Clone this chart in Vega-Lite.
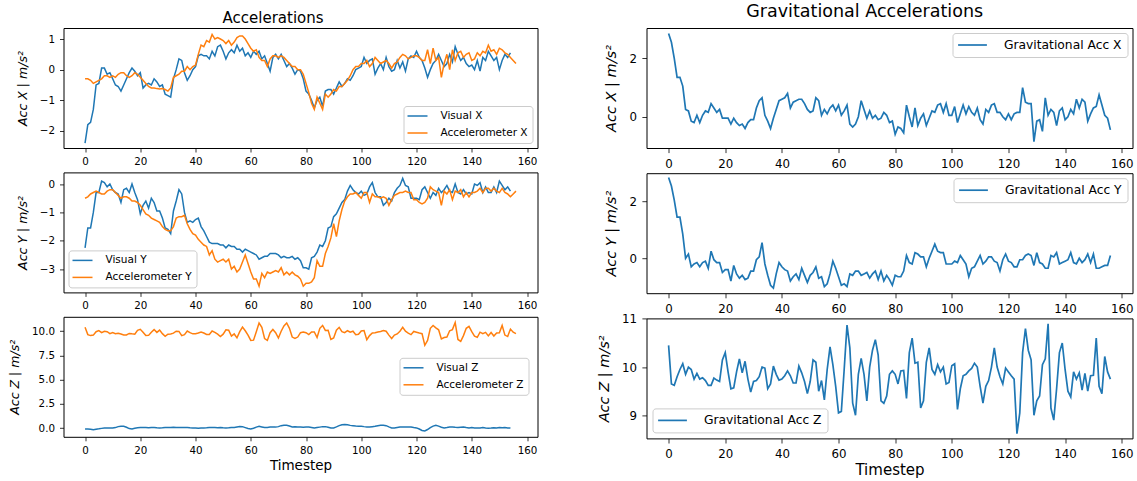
{
  "$schema": "https://vega.github.io/schema/vega-lite/v6.json",
  "background": "white",
  "padding": {"left": 7.5, "top": 3, "right": 5, "bottom": 0},
  "data": {"values": [
{"t":0,"vx":-2.4,"ax":-0.3,"vy":-2.25,"ay":-0.5,"vz":-0.1,"az":10.4,"gx":2.85,"gy":2.85,"gz":10.45},
{"t":1,"vx":-1.8,"ax":-0.3,"vy":-1.55,"ay":-0.45,"vz":-0.1,"az":9.65,"gx":2.55,"gy":2.55,"gz":9.65},
{"t":2,"vx":-1.72,"ax":-0.35,"vy":-1.55,"ay":-0.35,"vz":-0.12,"az":9.55,"gx":2.0,"gy":2.05,"gz":9.62},
{"t":3,"vx":-1.3,"ax":-0.45,"vy":-1.0,"ay":-0.3,"vz":-0.18,"az":9.6,"gx":1.35,"gy":1.45,"gz":9.8},
{"t":4,"vx":-0.5,"ax":-0.4,"vy":-0.3,"ay":-0.25,"vz":-0.12,"az":9.95,"gx":1.35,"gy":1.45,"gz":9.95},
{"t":5,"vx":-0.45,"ax":-0.35,"vy":-0.3,"ay":-0.3,"vz":-0.08,"az":10.07,"gx":1.05,"gy":0.85,"gz":10.07},
{"t":6,"vx":0.05,"ax":-0.3,"vy":0.1,"ay":-0.35,"vz":-0.03,"az":9.85,"gx":0.25,"gy":0.0,"gz":9.85},
{"t":7,"vx":0.05,"ax":-0.2,"vy":0.05,"ay":-0.35,"vz":0,"az":10.0,"gx":0.2,"gy":0.15,"gz":10.0},
{"t":8,"vx":-0.15,"ax":-0.2,"vy":-0.1,"ay":-0.25,"vz":0,"az":9.95,"gx":-0.15,"gy":-0.3,"gz":9.95},
{"t":9,"vx":-0.1,"ax":-0.25,"vy":0.0,"ay":-0.2,"vz":0,"az":9.75,"gx":-0.2,"gy":-0.2,"gz":9.75},
{"t":10,"vx":-0.3,"ax":-0.2,"vy":-0.2,"ay":-0.2,"vz":0,"az":9.87,"gx":0.05,"gy":-0.15,"gz":9.87},
{"t":11,"vx":-0.5,"ax":-0.25,"vy":-0.3,"ay":-0.3,"vz":0.05,"az":9.75,"gx":-0.2,"gy":-0.3,"gz":9.75},
{"t":12,"vx":-0.55,"ax":-0.15,"vy":-0.35,"ay":-0.4,"vz":0.15,"az":9.78,"gx":0.05,"gy":-0.15,"gz":9.78},
{"t":13,"vx":-0.7,"ax":-0.1,"vy":-0.65,"ay":-0.5,"vz":0.2,"az":9.72,"gx":0.2,"gy":-0.1,"gz":9.72},
{"t":14,"vx":-0.5,"ax":-0.1,"vy":-0.2,"ay":-0.45,"vz":0.18,"az":9.62,"gx":0.15,"gy":-0.35,"gz":9.62},
{"t":15,"vx":-0.3,"ax":-0.2,"vy":-0.15,"ay":-0.45,"vz":0.08,"az":9.62,"gx":0.45,"gy":0.25,"gz":9.62},
{"t":16,"vx":-0.1,"ax":-0.25,"vy":-0.3,"ay":-0.5,"vz":-0.05,"az":9.77,"gx":0.3,"gy":-0.05,"gz":9.77},
{"t":17,"vx":0.05,"ax":-0.2,"vy":0.0,"ay":-0.6,"vz":-0.1,"az":9.73,"gx":0.15,"gy":-0.15,"gz":9.73},
{"t":18,"vx":-0.05,"ax":-0.1,"vy":-0.3,"ay":-0.6,"vz":-0.02,"az":9.7,"gx":0.25,"gy":-0.15,"gz":9.7},
{"t":19,"vx":-0.2,"ax":-0.15,"vy":-0.55,"ay":-0.65,"vz":0.03,"az":10.1,"gx":-0.05,"gy":-0.5,"gz":10.15},
{"t":20,"vx":-0.1,"ax":-0.25,"vy":-1.05,"ay":-0.75,"vz":0.05,"az":10.2,"gx":-0.05,"gy":-0.4,"gz":10.3},
{"t":21,"vx":-0.6,"ax":-0.35,"vy":-0.75,"ay":-0.9,"vz":0.05,"az":9.9,"gx":-0.05,"gy":-0.4,"gz":9.9},
{"t":22,"vx":-0.5,"ax":-0.45,"vy":-0.6,"ay":-1.05,"vz":0.05,"az":9.55,"gx":-0.25,"gy":-0.8,"gz":9.55},
{"t":23,"vx":-0.45,"ax":-0.55,"vy":-0.85,"ay":-1.1,"vz":0.03,"az":9.57,"gx":-0.05,"gy":-0.25,"gz":9.57},
{"t":24,"vx":-0.5,"ax":-0.6,"vy":-0.5,"ay":-1.2,"vz":0.05,"az":9.9,"gx":-0.2,"gy":-0.55,"gz":9.9},
{"t":25,"vx":-0.3,"ax":-0.6,"vy":-0.65,"ay":-1.25,"vz":0.05,"az":10.17,"gx":-0.3,"gy":-0.7,"gz":10.17},
{"t":26,"vx":-0.4,"ax":-0.62,"vy":-0.95,"ay":-1.3,"vz":0.03,"az":9.88,"gx":-0.25,"gy":-0.6,"gz":9.88},
{"t":27,"vx":-0.55,"ax":-0.63,"vy":-0.95,"ay":-1.35,"vz":0.02,"az":10.12,"gx":-0.4,"gy":-0.75,"gz":10.12},
{"t":28,"vx":-0.5,"ax":-0.62,"vy":-1.2,"ay":-1.5,"vz":0.03,"az":9.75,"gx":-0.2,"gy":-0.7,"gz":9.75},
{"t":29,"vx":-0.8,"ax":-0.65,"vy":-1.55,"ay":-1.6,"vz":0.05,"az":9.48,"gx":-0.1,"gy":-0.45,"gz":9.48},
{"t":30,"vx":-0.85,"ax":-0.7,"vy":-1.6,"ay":-1.65,"vz":0.05,"az":9.7,"gx":-0.1,"gy":-0.45,"gz":9.7},
{"t":31,"vx":-0.9,"ax":-0.6,"vy":-1.75,"ay":-1.65,"vz":0.07,"az":9.72,"gx":0.3,"gy":-0.05,"gz":9.72},
{"t":32,"vx":-0.3,"ax":-0.25,"vy":-0.95,"ay":-1.5,"vz":0.08,"az":9.8,"gx":0.55,"gy":0.05,"gz":9.8},
{"t":33,"vx":0.0,"ax":-0.2,"vy":-0.6,"ay":-1.2,"vz":0.07,"az":10.0,"gx":0.65,"gy":0.55,"gz":10.0},
{"t":34,"vx":0.35,"ax":-0.15,"vy":-0.2,"ay":-1.15,"vz":0.06,"az":9.98,"gx":0.05,"gy":-0.2,"gz":9.98},
{"t":35,"vx":0.3,"ax":-0.05,"vy":-0.35,"ay":-1.15,"vz":0.05,"az":9.55,"gx":-0.15,"gy":-0.6,"gz":9.55},
{"t":36,"vx":-0.1,"ax":-0.05,"vy":-1.0,"ay":-1.1,"vz":0.07,"az":9.65,"gx":-0.4,"gy":-0.95,"gz":9.65},
{"t":37,"vx":-0.35,"ax":0.1,"vy":-1.35,"ay":-1.4,"vz":0.05,"az":10.02,"gx":-0.05,"gy":-1.05,"gz":10.02},
{"t":38,"vx":-0.2,"ax":0.0,"vy":-1.3,"ay":-1.6,"vz":0.03,"az":9.85,"gx":0.25,"gy":-0.55,"gz":9.85},
{"t":39,"vx":0.0,"ax":0.1,"vy":-1.35,"ay":-1.75,"vz":0.02,"az":9.73,"gx":0.55,"gy":-0.15,"gz":9.73},
{"t":40,"vx":0.1,"ax":0.15,"vy":-1.25,"ay":-1.8,"vz":0.0,"az":9.75,"gx":0.6,"gy":-0.3,"gz":9.75},
{"t":41,"vx":0.45,"ax":0.5,"vy":-1.2,"ay":-1.95,"vz":-0.02,"az":9.82,"gx":0.65,"gy":-0.4,"gz":9.82},
{"t":42,"vx":0.5,"ax":0.8,"vy":-1.5,"ay":-2.05,"vz":0.0,"az":9.92,"gx":0.8,"gy":-0.45,"gz":9.92},
{"t":43,"vx":0.45,"ax":0.75,"vy":-1.65,"ay":-2.15,"vz":0.02,"az":9.82,"gx":0.3,"gy":-0.8,"gz":9.82},
{"t":44,"vx":0.45,"ax":0.95,"vy":-1.85,"ay":-2.2,"vz":0.03,"az":9.67,"gx":0.5,"gy":-0.65,"gz":9.67},
{"t":45,"vx":0.35,"ax":0.9,"vy":-2.05,"ay":-2.5,"vz":0.05,"az":9.67,"gx":0.55,"gy":-0.55,"gz":9.67},
{"t":46,"vx":0.6,"ax":1.15,"vy":-2.1,"ay":-2.35,"vz":0.06,"az":10.02,"gx":0.6,"gy":-0.75,"gz":10.02},
{"t":47,"vx":0.45,"ax":1.0,"vy":-2.1,"ay":-2.65,"vz":0.05,"az":9.88,"gx":0.6,"gy":-0.35,"gz":9.88},
{"t":48,"vx":0.75,"ax":1.05,"vy":-2.1,"ay":-2.75,"vz":0.03,"az":9.7,"gx":0.45,"gy":-0.6,"gz":9.7},
{"t":49,"vx":0.8,"ax":1.0,"vy":-2.15,"ay":-2.7,"vz":0.05,"az":9.45,"gx":0.25,"gy":-0.85,"gz":9.45},
{"t":50,"vx":0.6,"ax":0.95,"vy":-2.15,"ay":-2.65,"vz":0.03,"az":9.7,"gx":0.15,"gy":-0.6,"gz":9.7},
{"t":51,"vx":0.35,"ax":0.85,"vy":-2.25,"ay":-2.75,"vz":0.02,"az":10.15,"gx":0.2,"gy":-0.5,"gz":10.15},
{"t":52,"vx":0.55,"ax":0.95,"vy":-2.15,"ay":-2.65,"vz":0.03,"az":10.1,"gx":0.65,"gy":-0.3,"gz":10.1},
{"t":53,"vx":0.65,"ax":0.8,"vy":-2.2,"ay":-3.0,"vz":0.05,"az":9.5,"gx":0.55,"gy":-0.7,"gz":9.5},
{"t":54,"vx":0.55,"ax":0.9,"vy":-2.2,"ay":-2.9,"vz":0.07,"az":9.72,"gx":0.05,"gy":-0.65,"gz":9.72},
{"t":55,"vx":0.8,"ax":1.05,"vy":-2.3,"ay":-3.1,"vz":0.12,"az":9.32,"gx":0.25,"gy":-1.0,"gz":9.32},
{"t":56,"vx":0.6,"ax":1.1,"vy":-2.3,"ay":-3.0,"vz":0.17,"az":9.95,"gx":0.1,"gy":-0.9,"gz":9.95},
{"t":57,"vx":0.7,"ax":1.1,"vy":-2.4,"ay":-2.75,"vz":0.15,"az":10.42,"gx":0.3,"gy":-0.55,"gz":10.42},
{"t":58,"vx":0.45,"ax":1.0,"vy":-2.3,"ay":-2.5,"vz":0.05,"az":10.05,"gx":0.4,"gy":-0.1,"gz":10.05},
{"t":59,"vx":0.55,"ax":0.85,"vy":-2.35,"ay":-2.8,"vz":-0.05,"az":9.6,"gx":0.2,"gy":-0.35,"gz":9.6},
{"t":60,"vx":0.4,"ax":0.7,"vy":-2.4,"ay":-3.1,"vz":-0.1,"az":9.05,"gx":0.4,"gy":-0.65,"gz":9.05},
{"t":61,"vx":0.6,"ax":0.6,"vy":-2.45,"ay":-3.35,"vz":-0.02,"az":9.08,"gx":0.05,"gy":-0.95,"gz":9.08},
{"t":62,"vx":0.5,"ax":0.65,"vy":-2.5,"ay":-3.35,"vz":0.1,"az":9.95,"gx":0.2,"gy":-0.9,"gz":9.95},
{"t":63,"vx":0.6,"ax":0.4,"vy":-2.65,"ay":-3.6,"vz":0.18,"az":10.85,"gx":0.4,"gy":-1.0,"gz":10.87},
{"t":64,"vx":0.35,"ax":0.3,"vy":-2.6,"ay":-3.15,"vz":0.12,"az":10.4,"gx":-0.25,"gy":-0.55,"gz":10.4},
{"t":65,"vx":0.45,"ax":0.3,"vy":-2.55,"ay":-3.3,"vz":0.05,"az":9.25,"gx":-0.35,"gy":-0.6,"gz":9.25},
{"t":66,"vx":0.2,"ax":0.1,"vy":-2.55,"ay":-3.1,"vz":0.05,"az":9.05,"gx":-0.25,"gy":-0.45,"gz":9.0},
{"t":67,"vx":-0.05,"ax":0.35,"vy":-2.45,"ay":-3.15,"vz":0.1,"az":9.85,"gx":0.0,"gy":-0.45,"gz":9.85},
{"t":68,"vx":0.4,"ax":0.45,"vy":-2.45,"ay":-3.1,"vz":0.12,"az":10.18,"gx":0.55,"gy":-0.6,"gz":10.18},
{"t":69,"vx":0.5,"ax":0.45,"vy":-2.45,"ay":-3.05,"vz":0.1,"az":9.85,"gx":0.25,"gy":-0.55,"gz":9.85},
{"t":70,"vx":0.35,"ax":0.4,"vy":-2.5,"ay":-3.1,"vz":0.15,"az":9.3,"gx":-0.05,"gy":-0.5,"gz":9.3},
{"t":71,"vx":0.5,"ax":0.45,"vy":-2.6,"ay":-2.95,"vz":0.25,"az":10.0,"gx":0.2,"gy":-0.7,"gz":10.0},
{"t":72,"vx":0.3,"ax":0.4,"vy":-2.55,"ay":-3.2,"vz":0.3,"az":10.55,"gx":-0.05,"gy":-0.55,"gz":10.35},
{"t":73,"vx":0.1,"ax":0.3,"vy":-2.6,"ay":-3.1,"vz":0.3,"az":10.85,"gx":0.05,"gy":-0.45,"gz":10.57},
{"t":74,"vx":0.2,"ax":0.2,"vy":-2.6,"ay":-3.2,"vz":0.22,"az":10.3,"gx":-0.1,"gy":-0.75,"gz":10.25},
{"t":75,"vx":0.05,"ax":0.1,"vy":-2.55,"ay":-3.1,"vz":0.12,"az":9.4,"gx":-0.05,"gy":-0.45,"gz":9.3},
{"t":76,"vx":-0.15,"ax":0.1,"vy":-2.65,"ay":-3.2,"vz":0.15,"az":9.25,"gx":0.15,"gy":-0.8,"gz":9.25},
{"t":77,"vx":0.0,"ax":0.0,"vy":-2.6,"ay":-3.25,"vz":0.12,"az":9.4,"gx":0.05,"gy":-0.6,"gz":9.4},
{"t":78,"vx":-0.05,"ax":0.0,"vy":-2.7,"ay":-3.35,"vz":0.1,"az":9.85,"gx":-0.2,"gy":-0.75,"gz":9.85},
{"t":79,"vx":-0.3,"ax":-0.15,"vy":-2.95,"ay":-3.6,"vz":0.08,"az":9.92,"gx":-0.15,"gy":-0.95,"gz":9.92},
{"t":80,"vx":-0.7,"ax":-0.45,"vy":-2.95,"ay":-3.5,"vz":0.1,"az":9.85,"gx":-0.6,"gy":-0.6,"gz":9.85},
{"t":81,"vx":-0.8,"ax":-0.75,"vy":-3.0,"ay":-3.5,"vz":0.1,"az":9.65,"gx":-0.35,"gy":-0.65,"gz":9.65},
{"t":82,"vx":-1.0,"ax":-1.1,"vy":-2.6,"ay":-3.45,"vz":0.05,"az":9.92,"gx":-0.4,"gy":-0.65,"gz":9.92},
{"t":83,"vx":-1.25,"ax":-1.3,"vy":-2.55,"ay":-3.3,"vz":0.0,"az":9.93,"gx":-0.55,"gy":-0.45,"gz":9.93},
{"t":84,"vx":-1.0,"ax":-0.9,"vy":-2.4,"ay":-2.7,"vz":0.05,"az":9.35,"gx":0.4,"gy":0.1,"gz":9.35},
{"t":85,"vx":-0.9,"ax":-1.1,"vy":-2.15,"ay":-2.9,"vz":0.1,"az":10.3,"gx":0.0,"gy":-0.15,"gz":10.3},
{"t":86,"vx":-1.2,"ax":-1.3,"vy":-2.2,"ay":-2.9,"vz":0.15,"az":10.6,"gx":-0.35,"gy":-0.2,"gz":10.6},
{"t":87,"vx":-0.7,"ax":-0.8,"vy":-2.0,"ay":-2.45,"vz":0.15,"az":10.08,"gx":0.3,"gy":0.2,"gz":10.08},
{"t":88,"vx":-0.65,"ax":-0.9,"vy":-1.55,"ay":-2.2,"vz":0.08,"az":10.1,"gx":-0.3,"gy":0.15,"gz":10.1},
{"t":89,"vx":-0.65,"ax":-0.8,"vy":-1.5,"ay":-1.9,"vz":0.0,"az":9.15,"gx":-0.05,"gy":0.05,"gz":9.15},
{"t":90,"vx":-0.8,"ax":-0.65,"vy":-1.15,"ay":-1.4,"vz":0.02,"az":9.3,"gx":0.1,"gy":0.05,"gz":9.3},
{"t":91,"vx":-0.6,"ax":-0.7,"vy":-1.05,"ay":-1.85,"vz":0.12,"az":10.1,"gx":-0.3,"gy":-0.3,"gz":10.1},
{"t":92,"vx":-0.4,"ax":-0.55,"vy":-0.85,"ay":-1.3,"vz":0.25,"az":10.4,"gx":-0.05,"gy":0.0,"gz":10.4},
{"t":93,"vx":-0.55,"ax":-0.55,"vy":-0.65,"ay":-0.9,"vz":0.35,"az":9.95,"gx":0.2,"gy":0.25,"gz":9.95},
{"t":94,"vx":-0.45,"ax":-0.45,"vy":-0.55,"ay":-0.6,"vz":0.38,"az":9.85,"gx":0.15,"gy":0.5,"gz":9.85},
{"t":95,"vx":-0.3,"ax":-0.35,"vy":-0.25,"ay":-0.45,"vz":0.35,"az":10.05,"gx":0.4,"gy":0.25,"gz":10.05},
{"t":96,"vx":-0.35,"ax":-0.2,"vy":-0.05,"ay":-0.35,"vz":0.28,"az":9.9,"gx":0.45,"gy":0.2,"gz":9.9},
{"t":97,"vx":-0.2,"ax":0.0,"vy":-0.2,"ay":-0.35,"vz":0.25,"az":10.0,"gx":0.15,"gy":0.2,"gz":10.0},
{"t":98,"vx":0.0,"ax":0.1,"vy":-0.3,"ay":-0.3,"vz":0.22,"az":9.65,"gx":0.45,"gy":-0.2,"gz":9.65},
{"t":99,"vx":0.05,"ax":0.1,"vy":-0.35,"ay":-0.4,"vz":0.2,"az":9.68,"gx":0.05,"gy":-0.2,"gz":9.68},
{"t":100,"vx":0.1,"ax":0.2,"vy":-0.25,"ay":-0.5,"vz":0.2,"az":10.03,"gx":0.05,"gy":-0.2,"gz":10.03},
{"t":101,"vx":0.4,"ax":0.2,"vy":-0.4,"ay":-0.3,"vz":0.15,"az":10.07,"gx":0.35,"gy":-0.1,"gz":10.07},
{"t":102,"vx":0.2,"ax":0.3,"vy":-0.35,"ay":-0.3,"vz":0.12,"az":9.12,"gx":-0.2,"gy":-0.15,"gz":9.12},
{"t":103,"vx":0.3,"ax":0.1,"vy":-0.1,"ay":-0.65,"vz":0.12,"az":9.55,"gx":0.1,"gy":0.1,"gz":9.55},
{"t":104,"vx":0.35,"ax":0.2,"vy":0.05,"ay":-0.35,"vz":0.15,"az":9.82,"gx":0.4,"gy":-0.05,"gz":9.82},
{"t":105,"vx":-0.15,"ax":0.4,"vy":-0.3,"ay":-0.45,"vz":0.18,"az":9.85,"gx":0.1,"gy":-0.2,"gz":9.85},
{"t":106,"vx":0.05,"ax":0.3,"vy":-0.45,"ay":-0.45,"vz":0.25,"az":9.92,"gx":0.35,"gy":-0.65,"gz":9.92},
{"t":107,"vx":0.2,"ax":0.2,"vy":-0.45,"ay":-0.5,"vz":0.28,"az":9.97,"gx":0.15,"gy":-0.35,"gz":9.97},
{"t":108,"vx":0.0,"ax":0.25,"vy":-0.75,"ay":-0.45,"vz":0.3,"az":10.08,"gx":0.05,"gy":-0.3,"gz":10.08},
{"t":109,"vx":0.4,"ax":0.3,"vy":-0.65,"ay":-0.5,"vz":0.25,"az":10.0,"gx":0.3,"gy":-0.1,"gz":10.0},
{"t":110,"vx":0.1,"ax":0.2,"vy":-0.5,"ay":-0.75,"vz":0.12,"az":9.6,"gx":-0.1,"gy":0.1,"gz":9.6},
{"t":111,"vx":-0.05,"ax":0.05,"vy":-0.6,"ay":-0.55,"vz":0.02,"az":9.25,"gx":-0.25,"gy":-0.2,"gz":9.25},
{"t":112,"vx":0.0,"ax":0.2,"vy":-0.3,"ay":-0.4,"vz":0.0,"az":9.6,"gx":0.25,"gy":-0.1,"gz":9.6},
{"t":113,"vx":0.3,"ax":0.25,"vy":-0.15,"ay":-0.35,"vz":0.05,"az":9.72,"gx":0.15,"gy":0.05,"gz":9.72},
{"t":114,"vx":0.05,"ax":0.4,"vy":-0.05,"ay":-0.3,"vz":0.1,"az":10.0,"gx":0.4,"gy":0.05,"gz":10.0},
{"t":115,"vx":0.25,"ax":0.5,"vy":0.2,"ay":-0.3,"vz":0.12,"az":10.4,"gx":0.45,"gy":-0.1,"gz":10.4},
{"t":116,"vx":-0.05,"ax":0.45,"vy":-0.05,"ay":-0.25,"vz":0.1,"az":10.0,"gx":0.15,"gy":-0.15,"gz":10.0},
{"t":117,"vx":0.35,"ax":0.35,"vy":-0.1,"ay":-0.3,"vz":0.12,"az":9.8,"gx":0.15,"gy":-0.45,"gz":9.8},
{"t":118,"vx":0.45,"ax":0.4,"vy":-0.5,"ay":-0.3,"vz":0.1,"az":9.65,"gx":0.0,"gy":-0.05,"gz":9.65},
{"t":119,"vx":0.4,"ax":0.45,"vy":-0.5,"ay":-0.55,"vz":0.05,"az":9.98,"gx":-0.1,"gy":0.15,"gz":9.98},
{"t":120,"vx":0.6,"ax":0.45,"vy":-0.5,"ay":-0.55,"vz":0.02,"az":9.9,"gx":0.1,"gy":-0.1,"gz":9.9},
{"t":121,"vx":0.4,"ax":0.4,"vy":-0.55,"ay":-0.65,"vz":-0.1,"az":9.82,"gx":-0.1,"gy":-0.15,"gz":9.82},
{"t":122,"vx":0.3,"ax":0.3,"vy":-0.2,"ay":-0.7,"vz":-0.25,"az":9.75,"gx":0.1,"gy":-0.3,"gz":9.75},
{"t":123,"vx":0.05,"ax":0.3,"vy":-0.1,"ay":-0.65,"vz":-0.3,"az":8.55,"gx":0.15,"gy":-0.3,"gz":8.62},
{"t":124,"vx":-0.25,"ax":0.65,"vy":-0.3,"ay":-0.5,"vz":-0.15,"az":9.05,"gx":0.15,"gy":-0.05,"gz":9.05},
{"t":125,"vx":0.0,"ax":0.2,"vy":-0.5,"ay":-0.1,"vz":0.05,"az":10.3,"gx":1.0,"gy":-0.05,"gz":10.3},
{"t":126,"vx":0.2,"ax":0.7,"vy":-0.3,"ay":-0.2,"vz":0.2,"az":10.6,"gx":0.5,"gy":0.1,"gz":10.8},
{"t":127,"vx":0.3,"ax":0.3,"vy":-0.4,"ay":-0.25,"vz":0.28,"az":10.35,"gx":0.45,"gy":0.15,"gz":10.35},
{"t":128,"vx":0.5,"ax":0.4,"vy":-0.15,"ay":-0.3,"vz":0.2,"az":10.15,"gx":0.45,"gy":0.1,"gz":10.15},
{"t":129,"vx":0.3,"ax":-0.25,"vy":-0.3,"ay":-0.75,"vz":0.08,"az":9.2,"gx":-0.85,"gy":-0.25,"gz":9.0},
{"t":130,"vx":0.1,"ax":0.2,"vy":-0.2,"ay":-0.25,"vz":0.02,"az":9.35,"gx":-0.15,"gy":0.2,"gz":9.3},
{"t":131,"vx":0.2,"ax":0.5,"vy":-0.05,"ay":-0.35,"vz":0.05,"az":9.4,"gx":-0.1,"gy":-0.15,"gz":9.4},
{"t":132,"vx":0.5,"ax":0.0,"vy":-0.25,"ay":-0.2,"vz":0.1,"az":10.05,"gx":-0.5,"gy":-0.2,"gz":10.05},
{"t":133,"vx":0.25,"ax":0.65,"vy":-0.3,"ay":-0.55,"vz":0.12,"az":10.17,"gx":0.65,"gy":-0.35,"gz":10.17},
{"t":134,"vx":0.75,"ax":0.3,"vy":0.0,"ay":-0.25,"vz":0.08,"az":10.9,"gx":0.05,"gy":-0.35,"gz":10.9},
{"t":135,"vx":0.5,"ax":0.55,"vy":-0.3,"ay":-0.3,"vz":0.05,"az":9.15,"gx":0.25,"gy":0.1,"gz":9.15},
{"t":136,"vx":0.3,"ax":0.6,"vy":-0.35,"ay":-0.2,"vz":0.08,"az":8.95,"gx":0.15,"gy":0.05,"gz":8.9},
{"t":137,"vx":0.4,"ax":0.4,"vy":-0.2,"ay":-0.45,"vz":0.1,"az":9.55,"gx":-0.3,"gy":0.2,"gz":9.55},
{"t":138,"vx":0.2,"ax":0.5,"vy":-0.35,"ay":-0.3,"vz":0.05,"az":10.3,"gx":0.2,"gy":-0.2,"gz":10.3},
{"t":139,"vx":0.1,"ax":0.55,"vy":-0.3,"ay":-0.45,"vz":0.02,"az":10.5,"gx":0.3,"gy":-0.15,"gz":10.5},
{"t":140,"vx":0.15,"ax":0.3,"vy":-0.35,"ay":-0.3,"vz":0.05,"az":9.95,"gx":-0.1,"gy":-0.1,"gz":9.95},
{"t":141,"vx":0.0,"ax":0.35,"vy":0.0,"ay":-0.3,"vz":0.02,"az":9.5,"gx":0.0,"gy":-0.05,"gz":9.5},
{"t":142,"vx":0.3,"ax":0.55,"vy":-0.05,"ay":-0.25,"vz":0.0,"az":9.38,"gx":0.25,"gy":0.2,"gz":9.38},
{"t":143,"vx":-0.05,"ax":0.45,"vy":0.05,"ay":-0.15,"vz":0.02,"az":9.9,"gx":0.1,"gy":-0.15,"gz":9.9},
{"t":144,"vx":0.4,"ax":0.6,"vy":-0.3,"ay":-0.3,"vz":0.05,"az":9.75,"gx":0.6,"gy":-0.2,"gz":9.75},
{"t":145,"vx":0.3,"ax":0.55,"vy":-0.1,"ay":-0.15,"vz":0.0,"az":9.88,"gx":0.3,"gy":0.0,"gz":9.88},
{"t":146,"vx":0.6,"ax":0.8,"vy":-0.3,"ay":-0.15,"vz":-0.02,"az":9.52,"gx":0.6,"gy":-0.15,"gz":9.52},
{"t":147,"vx":0.45,"ax":0.6,"vy":-0.3,"ay":-0.25,"vz":0.0,"az":9.87,"gx":0.5,"gy":-0.05,"gz":9.87},
{"t":148,"vx":0.3,"ax":0.65,"vy":-0.1,"ay":-0.15,"vz":0.03,"az":9.5,"gx":-0.15,"gy":0.15,"gz":9.5},
{"t":149,"vx":0.4,"ax":0.5,"vy":-0.3,"ay":-0.25,"vz":0.02,"az":9.82,"gx":0.1,"gy":-0.15,"gz":9.82},
{"t":150,"vx":0.0,"ax":0.7,"vy":0.1,"ay":-0.3,"vz":0.05,"az":9.83,"gx":0.3,"gy":0.15,"gz":9.83},
{"t":151,"vx":0.3,"ax":0.65,"vy":-0.05,"ay":-0.15,"vz":0.03,"az":10.6,"gx":0.35,"gy":-0.35,"gz":10.6},
{"t":152,"vx":0.5,"ax":0.55,"vy":-0.2,"ay":-0.3,"vz":0.05,"az":9.6,"gx":0.75,"gy":-0.35,"gz":9.6},
{"t":153,"vx":0.4,"ax":0.5,"vy":-0.1,"ay":-0.35,"vz":0.02,"az":9.45,"gx":0.4,"gy":-0.3,"gz":9.45},
{"t":154,"vx":0.55,"ax":0.4,"vy":-0.25,"ay":-0.45,"vz":0.0,"az":10.22,"gx":0.05,"gy":-0.25,"gz":10.22},
{"t":155,"vx":null,"ax":0.3,"vy":null,"ay":-0.35,"vz":null,"az":9.9,"gx":-0.05,"gy":-0.25,"gz":9.9},
{"t":156,"vx":null,"ax":0.2,"vy":null,"ay":-0.25,"vz":null,"az":9.75,"gx":-0.45,"gy":0.1,"gz":9.75}
  ]},
  "hconcat": [
    {
      "title": {"text": "Accelerations", "fontSize": 15, "offset": 1.8},
      "bounds": "flush",
      "spacing": 24.4,
      "resolve": {"scale": {"color": "independent", "x": "independent", "y": "independent"}, "legend": {"color": "independent"}},
      "vconcat": [
        {
          "width": 474, "height": 120,
          "transform": [{"fold": ["vx", "ax"], "as": ["s", "v"]}],
          "mark": {"type": "line", "strokeWidth": 1.5},
          "encoding": {
            "x": {"field": "t", "type": "quantitative", "scale": {"domain": [-7.8, 163.8], "nice": false, "zero": false}, "axis": {"values": [0,20,40,60,80,100,120,140,160], "format": "d", "title": null, "labelFontSize": 10.3, "tickSize": 4, "labelPadding": 4.5}},
            "y": {"field": "v", "type": "quantitative", "scale": {"domain": [-2.56, 1.36], "nice": false, "zero": false}, "axis": {"values": [-2,-1,0,1], "format": "d", "title": "Acc X | m/s²", "titleFontSize": 12.5, "labelFontSize": 10.3, "tickSize": 4, "labelPadding": 5, "titlePadding": 10}},
            "color": {"field": "s", "type": "nominal", "scale": {"domain": ["vx", "ax"], "range": ["#1f77b4", "#ff7f0e"]},
              "legend": {"orient": "bottom-right", "offset": 5, "title": null, "labelExpr": "datum.label == 'vx' ? 'Visual X' : 'Accelerometer X'", "labelFontSize": 10.5, "symbolType": "M-2,0H2", "symbolSize": 100, "symbolOffset": 4, "symbolStrokeWidth": 1.5, "padding": 4, "rowPadding": 5, "labelOffset": 17}}
          }
        },
        {
          "width": 474, "height": 120,
          "transform": [{"fold": ["vy", "ay"], "as": ["s", "v"]}],
          "mark": {"type": "line", "strokeWidth": 1.5},
          "encoding": {
            "x": {"field": "t", "type": "quantitative", "scale": {"domain": [-7.8, 163.8], "nice": false, "zero": false}, "axis": {"values": [0,20,40,60,80,100,120,140,160], "format": "d", "title": null, "labelFontSize": 10.3, "tickSize": 4, "labelPadding": 4.5}},
            "y": {"field": "v", "type": "quantitative", "scale": {"domain": [-3.82, 0.41], "nice": false, "zero": false}, "axis": {"values": [-3,-2,-1,0], "format": "d", "title": "Acc Y | m/s²", "titleFontSize": 12.5, "labelFontSize": 10.3, "tickSize": 4, "labelPadding": 5, "titlePadding": 10}},
            "color": {"field": "s", "type": "nominal", "scale": {"domain": ["vy", "ay"], "range": ["#1f77b4", "#ff7f0e"]},
              "legend": {"orient": "bottom-left", "offset": 5, "title": null, "labelExpr": "datum.label == 'vy' ? 'Visual Y' : 'Accelerometer Y'", "labelFontSize": 10.5, "symbolType": "M-2,0H2", "symbolSize": 100, "symbolOffset": 4, "symbolStrokeWidth": 1.5, "padding": 4, "rowPadding": 5, "labelOffset": 17}}
          }
        },
        {
          "width": 474, "height": 120,
          "transform": [{"fold": ["vz", "az"], "as": ["s", "v"]}],
          "mark": {"type": "line", "strokeWidth": 1.5},
          "encoding": {
            "x": {"field": "t", "type": "quantitative", "scale": {"domain": [-7.8, 163.8], "nice": false, "zero": false}, "axis": {"values": [0,20,40,60,80,100,120,140,160], "format": "d", "title": "Timestep", "titleFontSize": 13.5, "titlePadding": 3, "labelFontSize": 10.3, "tickSize": 4, "labelPadding": 4.5}},
            "y": {"field": "v", "type": "quantitative", "scale": {"domain": [-0.9, 11.49], "nice": false, "zero": false}, "axis": {"values": [0,2.5,5,7.5,10], "format": ".1f", "title": "Acc Z | m/s²", "titleFontSize": 12.5, "labelFontSize": 10.3, "tickSize": 4, "labelPadding": 5, "titlePadding": 10}},
            "color": {"field": "s", "type": "nominal", "scale": {"domain": ["vz", "az"], "range": ["#1f77b4", "#ff7f0e"]},
              "legend": {"orient": "none", "legendX": 336, "legendY": 41, "title": null, "labelExpr": "datum.label == 'vz' ? 'Visual Z' : 'Accelerometer Z'", "labelFontSize": 10.5, "symbolType": "M-2,0H2", "symbolSize": 100, "symbolOffset": 4, "symbolStrokeWidth": 1.5, "padding": 4, "rowPadding": 5, "labelOffset": 17}}
          }
        }
      ]
    },
    {
      "title": {"text": "Gravitational Accelerations", "fontSize": 17.5, "offset": 6.7},
      "bounds": "flush",
      "spacing": 25.2,
      "resolve": {"scale": {"color": "independent", "x": "independent", "y": "independent"}, "legend": {"color": "independent"}},
      "vconcat": [
        {
          "width": 486, "height": 120,
          "transform": [{"fold": ["gx"], "as": ["s", "v"]}],
          "mark": {"type": "line", "strokeWidth": 1.7},
          "encoding": {
            "x": {"field": "t", "type": "quantitative", "scale": {"domain": [-7.8, 163.8], "nice": false, "zero": false}, "axis": {"values": [0,20,40,60,80,100,120,140,160], "format": "d", "title": null, "labelFontSize": 11.8, "tickSize": 4.6, "labelPadding": 5.5}},
            "y": {"field": "v", "type": "quantitative", "scale": {"domain": [-1.07, 3.04], "nice": false, "zero": false}, "axis": {"values": [0,2], "format": "d", "title": "Acc X | m/s²", "titleFontSize": 14.5, "labelFontSize": 11.8, "tickSize": 4.6, "labelPadding": 5.5, "titlePadding": 10}},
            "color": {"field": "s", "type": "nominal", "scale": {"domain": ["gx"], "range": ["#1f77b4"]},
              "legend": {"orient": "top-right", "offset": 5, "title": null, "labelExpr": "'Gravitational Acc X'", "labelFontSize": 12.3, "symbolType": "M-2.4,0H2.4", "symbolSize": 144, "symbolOffset": 8, "symbolStrokeWidth": 1.7, "padding": 5, "labelOffset": 24.4}}
          }
        },
        {
          "width": 486, "height": 120,
          "transform": [{"fold": ["gy"], "as": ["s", "v"]}],
          "mark": {"type": "line", "strokeWidth": 1.7},
          "encoding": {
            "x": {"field": "t", "type": "quantitative", "scale": {"domain": [-7.8, 163.8], "nice": false, "zero": false}, "axis": {"values": [0,20,40,60,80,100,120,140,160], "format": "d", "title": null, "labelFontSize": 11.8, "tickSize": 4.6, "labelPadding": 5.5}},
            "y": {"field": "v", "type": "quantitative", "scale": {"domain": [-1.23, 3.0], "nice": false, "zero": false}, "axis": {"values": [0,2], "format": "d", "title": "Acc Y | m/s²", "titleFontSize": 14.5, "labelFontSize": 11.8, "tickSize": 4.6, "labelPadding": 5.5, "titlePadding": 10}},
            "color": {"field": "s", "type": "nominal", "scale": {"domain": ["gy"], "range": ["#1f77b4"]},
              "legend": {"orient": "top-right", "offset": 5, "title": null, "labelExpr": "'Gravitational Acc Y'", "labelFontSize": 12.3, "symbolType": "M-2.4,0H2.4", "symbolSize": 144, "symbolOffset": 8, "symbolStrokeWidth": 1.7, "padding": 5, "labelOffset": 24.4}}
          }
        },
        {
          "width": 486, "height": 120,
          "transform": [{"fold": ["gz"], "as": ["s", "v"]}],
          "mark": {"type": "line", "strokeWidth": 1.7},
          "encoding": {
            "x": {"field": "t", "type": "quantitative", "scale": {"domain": [-7.8, 163.8], "nice": false, "zero": false}, "axis": {"values": [0,20,40,60,80,100,120,140,160], "format": "d", "title": "Timestep", "titleFontSize": 15, "titlePadding": 2, "labelFontSize": 11.8, "tickSize": 4.6, "labelPadding": 5.5}},
            "y": {"field": "v", "type": "quantitative", "scale": {"domain": [8.52, 11.01], "nice": false, "zero": false}, "axis": {"values": [9,10,11], "format": "d", "title": "Acc Z | m/s²", "titleFontSize": 14.5, "labelFontSize": 11.8, "tickSize": 4.6, "labelPadding": 5.5, "titlePadding": 10}},
            "color": {"field": "s", "type": "nominal", "scale": {"domain": ["gz"], "range": ["#1f77b4"]},
              "legend": {"orient": "bottom-left", "offset": 6, "title": null, "labelExpr": "'Gravitational Acc Z'", "labelFontSize": 12.3, "symbolType": "M-2.4,0H2.4", "symbolSize": 144, "symbolOffset": 8, "symbolStrokeWidth": 1.7, "padding": 5, "labelOffset": 24.4}}
          }
        }
      ]
    }
  ],
  "spacing": 57,
  "resolve": {"scale": {"color": "independent", "x": "independent", "y": "independent"}, "legend": {"color": "independent"}},
  "config": {
    "font": "DejaVu Sans",
    "view": {"stroke": "#000000", "strokeWidth": 1},
    "axis": {"domain": false, "grid": false, "tickColor": "#000000", "tickWidth": 0.8, "labelColor": "#000000", "titleColor": "#000000", "labelFont": "DejaVu Sans", "titleFont": "DejaVu Sans", "titleFontWeight": "normal", "labelFlush": false},
    "axisY": {"titleFontStyle": "italic"},
    "legend": {"strokeColor": "#cccccc", "fillColor": "rgba(255,255,255,0.8)", "cornerRadius": 3, "labelColor": "#000000", "labelFont": "DejaVu Sans"},
    "title": {"font": "DejaVu Sans", "fontWeight": "normal", "color": "#000000", "anchor": "middle", "baseline": "alphabetic"}
  }
}
